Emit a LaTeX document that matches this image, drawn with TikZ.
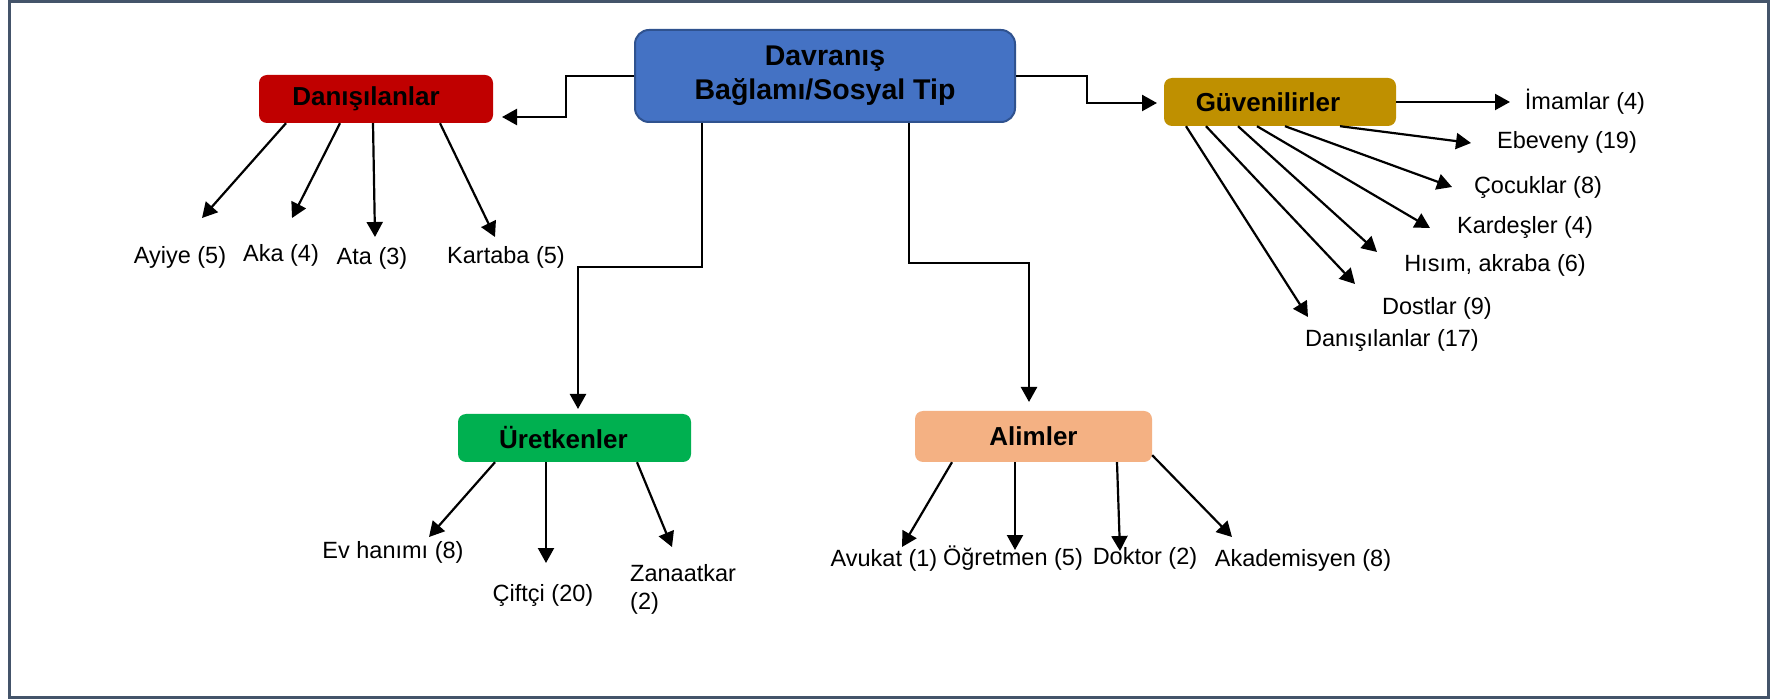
\documentclass[tikz,border=0pt]{standalone}
\usepackage{fontspec}
\setmainfont{Liberation Sans}
\usetikzlibrary{arrows.meta}
\definecolor{cblue}{HTML}{4472C4}
\definecolor{cborder}{HTML}{2F528F}
\definecolor{cred}{HTML}{C00000}
\definecolor{cgold}{HTML}{BF9000}
\definecolor{cgreen}{HTML}{00B050}
\definecolor{csalmon}{HTML}{F4B183}
\definecolor{cframe}{HTML}{44546A}
\begin{document}
\begin{tikzpicture}[x=1pt,y=-1pt,
  box/.style={rounded corners=8pt, inner sep=0pt, font=\fontsize{26}{30}\selectfont\bfseries},
  lbl/.style={inner sep=0pt, font=\fontsize{23.5}{28}\selectfont},
  conn/.style={line width=2.4pt, -{Triangle[length=15pt,width=16pt]}},
  arr/.style={line width=2.2pt, -{Triangle[length=15pt,width=16pt]}},
  frame/.style={draw=cframe, line width=3pt}]
\useasboundingbox (0,0) rectangle (1773,700);
\fill[white] (0,0) rectangle (1773,700);
\draw[frame] (9.5,1.5) rectangle (1768.5,697.5);

% boxes
\node[box, fill=cblue, draw=cborder, line width=2pt, rounded corners=14pt,
      minimum width=380pt, minimum height=92pt, align=center,
      font=\fontsize{28.5}{34}\selectfont\bfseries] (cen) at (825,76) {Davranış\\Bağlamı/Sosyal Tip};
\node[box, fill=cred, minimum width=234pt, minimum height=48pt] (dan) at (376,99) {\kern-20pt Danışılanlar};
\node[box, fill=cgold, minimum width=232pt, minimum height=48pt] (guv) at (1280,102) {\kern-24pt Güvenilirler};
\node[box, fill=cgreen, minimum width=233pt, minimum height=48pt] (ure) at (574.5,438) {\kern-22pt Üretkenler};
\node[box, fill=csalmon, minimum width=237pt, minimum height=51pt] (ali) at (1033.5,436.5) {Alimler};

% labels
\node[lbl] (ayiye) at (180,257) {Ayiye (5)};
\node[lbl] (aka) at (281,255) {Aka (4)};
\node[lbl] (ata) at (372,258) {Ata (3)};
\node[lbl] (kartaba) at (506,257) {Kartaba (5)};
\node[lbl] (imam) at (1585,102) {İmamlar (4)};
\node[lbl] (ebev) at (1567,142) {Ebeveny (19)};
\node[lbl] (cocuk) at (1538,187) {Çocuklar (8)};
\node[lbl] (kard) at (1525,227) {Kardeşler (4)};
\node[lbl] (hisim) at (1495,265) {Hısım, akraba (6)};
\node[lbl] (dost) at (1437,308) {Dostlar (9)};
\node[lbl] (dan17) at (1392,340) {Danışılanlar (17)};
\node[lbl] (evh) at (393,552) {Ev hanımı (8)};
\node[lbl] (cift) at (543,595) {Çiftçi (20)};
\node[lbl, align=left, anchor=west] (zan) at (630,589) {Zanaatkar\\(2)};
\node[lbl] (avu) at (884,560) {Avukat (1)};
\node[lbl] (ogr) at (1013,558) {Öğretmen (5)};
\node[lbl] (dok) at (1145,558) {Doktor (2)};
\node[lbl] (akad) at (1303,560) {Akademisyen (8)};

% arrow tips
\coordinate (tDan) at (502,117);
\coordinate (tGuv) at (1157,103);
\coordinate (tUre) at (578,409);
\coordinate (tAli) at (1029,402);
\coordinate (tAyiye) at (202,218);
\coordinate (tAka) at (292,218);
\coordinate (tAta) at (375,237);
\coordinate (tKartaba) at (495,237);
\coordinate (tImam) at (1510,102);
\coordinate (tEbev) at (1471,143);
\coordinate (tCocuk) at (1452,187);
\coordinate (tKard) at (1430,228);
\coordinate (tHisim) at (1377,252);
\coordinate (tDost) at (1355,284);
\coordinate (tDan17) at (1308,317);
\coordinate (tEvh) at (429,537);
\coordinate (tCift) at (546,563);
\coordinate (tZan) at (672,547);
\coordinate (tAvu) at (902,547);
\coordinate (tOgr) at (1015,550);
\coordinate (tDok) at (1120,551);
\coordinate (tAkad) at (1232,537);

% central connectors
\draw[conn] (cen.west) -- ++(-68,0) -- ++(0,41) -- (tDan);
\draw[conn] (cen.east) -- ++(71,0) -- ++(0,27) -- (tGuv);
\draw[conn] (cen.south -| 702,0) -- (702,267) -- (578,267) -- (tUre);
\draw[conn] (cen.south -| 909,0) -- (909,263) -- (1029,263) -- (tAli);

% Danisilanlar children
\draw[arr] (dan.south -| 286,0) -- (tAyiye);
\draw[arr] (dan.south -| 340,0) -- (tAka);
\draw[arr] (dan.south -| 373,0) -- (tAta);
\draw[arr] (dan.south -| 440,0) -- (tKartaba);

% Guvenilirler children
\draw[arr] (guv.east) -- (tImam);
\draw[arr] (guv.south -| 1340,0) -- (tEbev);
\draw[arr] (guv.south -| 1285,0) -- (tCocuk);
\draw[arr] (guv.south -| 1257,0) -- (tKard);
\draw[arr] (guv.south -| 1238,0) -- (tHisim);
\draw[arr] (guv.south -| 1206,0) -- (tDost);
\draw[arr] (guv.south -| 1186,0) -- (tDan17);

% Uretkenler children
\draw[arr] (ure.south -| 495,0) -- (tEvh);
\draw[arr] (ure.south -| 546,0) -- (tCift);
\draw[arr] (ure.south -| 637,0) -- (tZan);

% Alimler children
\draw[arr] (ali.south -| 952,0) -- (tAvu);
\draw[arr] (ali.south -| 1015,0) -- (tOgr);
\draw[arr] (ali.south -| 1117,0) -- (tDok);
\draw[arr] ([yshift=7pt]ali.south east) -- (tAkad);
\end{tikzpicture}
\end{document}
